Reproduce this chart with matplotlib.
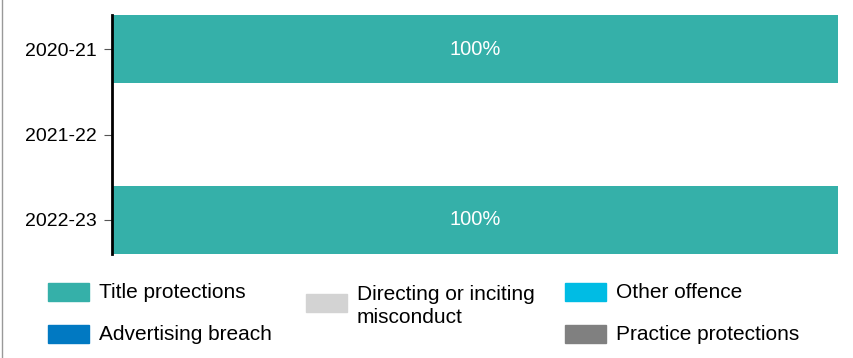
import matplotlib
matplotlib.use("Agg")
import matplotlib.pyplot as plt
from matplotlib.patches import Rectangle
from matplotlib.lines import Line2D

plt.rcParams["font.family"] = ["Liberation Sans", "DejaVu Sans"]

years = ["2020-21", "2021-22", "2022-23"]
series = ["Title protections", "Advertising breach", "Directing or inciting\nmisconduct",
          "Other offence", "Practice protections"]
colors = ["#35B0A9", "#0179C2", "#D3D3D3", "#00BCE4", "#808080"]
title_protections = [100, 0, 100]
advertising_breach = [0, 0, 0]
directing_misconduct = [0, 0, 0]
other_offence = [0, 0, 0]
practice_protections = [0, 0, 0]
values = [title_protections, advertising_breach, directing_misconduct,
          other_offence, practice_protections]

W, H = 854, 358
fig = plt.figure(figsize=(W / 100, H / 100), dpi=100)
ax = fig.add_axes([112 / W, 1 - 254 / H, (838 - 112) / W, (254 - 15) / H])

ypos = list(range(len(years)))
left = [0] * len(years)
for vals, c in zip(values, colors):
    bars = ax.barh(ypos, vals, left=left, height=0.8, color=c, linewidth=0)
    for b, v in zip(bars, vals):
        if v > 0:
            ax.text(b.get_x() + b.get_width() / 2, b.get_y() + b.get_height() / 2,
                    f"{v:.0f}%", ha="center", va="center", color="white", fontsize=14.5)
    left = [l + v for l, v in zip(left, vals)]

ax.set_xlim(0, 100)
ax.set_ylim(len(years) - 0.6, -0.4)
ax.set_yticks(ypos)
ax.set_yticklabels(years, fontsize=14)
ax.set_xticks([])
for s in ("top", "right", "bottom"):
    ax.spines[s].set_visible(False)
ax.spines["left"].set_linewidth(2)
ax.spines["left"].set_color("black")
ax.tick_params(axis="y", length=6, width=0.8, color="#555555", pad=5)

# legend drawn by hand: three columns, middle entry centred
entries = [
    (0, 48, 292), (1, 48, 334), (2, 306, 303), (3, 565, 292), (4, 565, 334),
]
for idx, x, y in entries:
    fig.patches.append(Rectangle((x / W, 1 - (y + 9) / H), 41 / W, 18 / H,
                                 transform=fig.transFigure, color=colors[idx]))
    ty = y if idx != 2 else 306
    fig.text((x + 51) / W, 1 - ty / H, series[idx], fontsize=15, va="center",
             ha="left", linespacing=1.3)

fig.add_artist(Line2D([2 / W, 2 / W], [0, 1], transform=fig.transFigure,
                      color="#999999", linewidth=1))

fig.savefig("out.png", dpi=100)
